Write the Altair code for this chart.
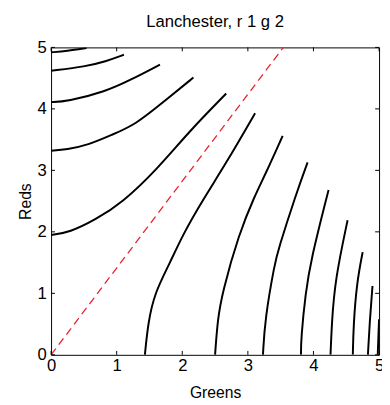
import altair as alt
import pandas as pd

# Curves: (Greens, Reds)
curve_a = [(0.0, 4.92), (0.24, 4.94), (0.54, 4.99)]
curve_b = [(0.0, 4.62), (0.53, 4.69), (0.83, 4.77), (1.11, 4.88)]
curve_c = [(0.0, 4.11), (0.24, 4.12), (0.83, 4.28), (1.23, 4.48), (1.66, 4.72)]
curve_d = [(0.0, 3.32), (0.24, 3.34), (0.56, 3.41), (0.93, 3.58), (1.28, 3.74), (1.71, 4.11), (2.17, 4.51)]
curve_e = [(0.0, 1.95), (0.28, 1.99), (0.68, 2.20), (1.08, 2.47), (1.61, 3.01), (2.11, 3.64), (2.67, 4.25)]
curve_f = [(1.43, 0.0), (1.48, 0.53), (1.58, 1.01), (1.81, 1.49), (2.01, 1.96), (2.33, 2.55), (2.66, 3.10), (3.11, 3.93)]
curve_g = [(2.50, 0.0), (2.54, 0.58), (2.61, 1.01), (2.86, 1.96), (3.11, 2.60), (3.26, 2.92), (3.53, 3.56)]
curve_h = [(3.23, 0.0), (3.26, 0.58), (3.41, 1.49), (3.46, 1.70), (3.73, 2.60), (3.91, 3.13)]
curve_i = [(3.81, 0.0), (3.81, 0.26), (3.88, 1.01), (3.96, 1.54), (4.21, 2.60), (4.23, 2.68)]
curve_j = [(4.26, 0.0), (4.28, 0.53), (4.33, 1.22), (4.52, 2.19)]
curve_k = [(4.60, 0.0), (4.61, 0.48), (4.66, 1.17), (4.75, 1.67)]
curve_l = [(4.83, 0.0), (4.86, 0.58), (4.90, 1.12)]
curve_m = [(4.98, 0.0), (4.99, 0.30), (5.0, 0.58)]

equal_line = [(0.0, 0.0), (3.54, 5.0)]
ticks = [0, 1, 2, 3, 4, 5]

curves = [curve_a, curve_b, curve_c, curve_d, curve_e, curve_f, curve_g,
          curve_h, curve_i, curve_j, curve_k, curve_l, curve_m]

rows = []
for ci, c in enumerate(curves):
    for pi, (g, r) in enumerate(c):
        rows.append({"curve": ci, "idx": pi, "G": g, "R": r})
df = pd.DataFrame(rows)
df_eq = pd.DataFrame([{"G": g, "R": r, "idx": i} for i, (g, r) in enumerate(equal_line)])
df_t = pd.DataFrame({"t": ticks})

W, H = 335, 314
FONT = "Liberation Sans"

xs = alt.Scale(domain=[0, 5], nice=False, zero=False)
ys = alt.Scale(domain=[0, 5], nice=False, zero=False)

xaxis = alt.Axis(values=ticks, title="Greens", tickSize=0, domain=False, grid=False,
                 labelFontSize=17, labelFont=FONT, labelColor="black", labelPadding=3,
                 titleFontSize=16, titleFont=FONT, titleFontWeight="normal", titleColor="black",
                 titlePadding=12, format="d", labelFlush=False, labelOverlap=False)
yaxis = alt.Axis(values=ticks, title="Reds", tickSize=0, domain=False, grid=False,
                 labelFontSize=17, labelFont=FONT, labelColor="black", labelPadding=5,
                 titleFontSize=16, titleFont=FONT, titleFontWeight="normal", titleColor="black",
                 titlePadding=4, format="d", labelFlush=False, labelOverlap=False)

lines = alt.Chart(df).mark_line(color="black", strokeWidth=2, clip=True, interpolate="basis").encode(
    x=alt.X("G:Q", scale=xs, axis=xaxis),
    y=alt.Y("R:Q", scale=ys, axis=yaxis),
    detail="curve:N",
    order="idx:Q",
)

eq = alt.Chart(df_eq).mark_line(color="#e8202a", strokeWidth=1.3, strokeDash=[8, 5], clip=True).encode(
    x=alt.X("G:Q", scale=xs),
    y=alt.Y("R:Q", scale=ys),
    order="idx:Q",
)

tk = 4
tb = alt.Chart(df_t).mark_rule(color="black", strokeWidth=1).encode(
    x=alt.X("t:Q", scale=xs), y=alt.value(H), y2=alt.value(H - tk))
tt = alt.Chart(df_t).mark_rule(color="black", strokeWidth=1).encode(
    x=alt.X("t:Q", scale=xs), y=alt.value(0), y2=alt.value(tk))
tl = alt.Chart(df_t).mark_rule(color="black", strokeWidth=1).encode(
    y=alt.Y("t:Q", scale=ys), x=alt.value(0), x2=alt.value(tk))
tr = alt.Chart(df_t).mark_rule(color="black", strokeWidth=1).encode(
    y=alt.Y("t:Q", scale=ys), x=alt.value(W), x2=alt.value(W - tk))

chart = alt.layer(lines, eq, tb, tt, tl, tr).properties(
    width=W, height=H,
    autosize=alt.AutoSizeParams(type="none"),
    padding={"left": 44, "top": 36, "right": 3, "bottom": 47},
    title=alt.TitleParams("Lanchester, r 1 g 2", fontSize=17, font=FONT, fontWeight="normal",
                          color="black", anchor="middle", offset=8),
).configure_view(stroke="black", strokeWidth=1)

chart.save("out.html", embed_options={"renderer": "svg", "actions": False})
